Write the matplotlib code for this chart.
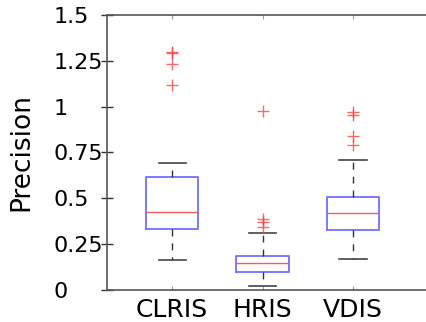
import numpy as np
import matplotlib.pyplot as plt

# precision per method, summarised as box plot statistics
methods = ['CLRIS', 'HRIS', 'VDIS']
q1 = [0.333, 0.097, 0.326]
medians = [0.426, 0.147, 0.418]
q3 = [0.615, 0.184, 0.506]
whisker_lo = [0.164, 0.023, 0.171]
whisker_hi = [0.691, 0.309, 0.709]
outliers = [[1.300, 1.294, 1.231, 1.120],
            [0.977, 0.385, 0.370, 0.345],
            [0.971, 0.957, 0.840, 0.791]]
yticks = [0, 0.25, 0.5, 0.75, 1, 1.25, 1.5]
ytick_labels = ['0', '0.25', '0.5', '0.75', '1', '1.25', '1.5']

stats = []
for i, name in enumerate(methods):
    stats.append({'label': name, 'q1': q1[i], 'med': medians[i], 'q3': q3[i],
                  'whislo': whisker_lo[i], 'whishi': whisker_hi[i],
                  'fliers': np.array(outliers[i])})

fig = plt.figure(figsize=(4.27, 3.22), dpi=100)
ax = fig.add_axes([0.2506, 0.0994, 0.788, 0.854])

ax.bxp(stats, positions=[1, 2, 3], widths=0.58, capwidths=0.3,
       boxprops=dict(color='#7070ff', linewidth=1.3),
       medianprops=dict(color='#ff5a5a', linewidth=1.0),
       whiskerprops=dict(color='#333333', linewidth=1.0, linestyle=(0, (5, 5))),
       capprops=dict(color='#444444', linewidth=1.2),
       flierprops=dict(marker='+', markersize=9, markeredgecolor='#ff4040',
                       markeredgewidth=1.0, alpha=0.8))

ax.set_xlim(0.28, 4.0)
ax.set_ylim(0, 1.5)
ax.set_yticks(yticks)
ax.set_yticklabels(ytick_labels)
ax.set_xticks([1, 2, 3])
ax.set_xticklabels(methods)

ax.tick_params(axis='y', direction='inout', length=9, width=1, color='#333333',
               labelsize=16, pad=33.7)
for lab in ax.get_yticklabels():
    lab.set_horizontalalignment('left')
ax.tick_params(axis='x', direction='in', length=3, width=0.8, color='#999999',
               top=True, labelsize=18, pad=6)

for side in ['top', 'bottom', 'left']:
    ax.spines[side].set_color('#555555')
    ax.spines[side].set_linewidth(1.2)
ax.spines['right'].set_visible(False)

ax.set_ylabel('Precision', fontsize=19, labelpad=14)

plt.savefig('out.png', dpi=100)
